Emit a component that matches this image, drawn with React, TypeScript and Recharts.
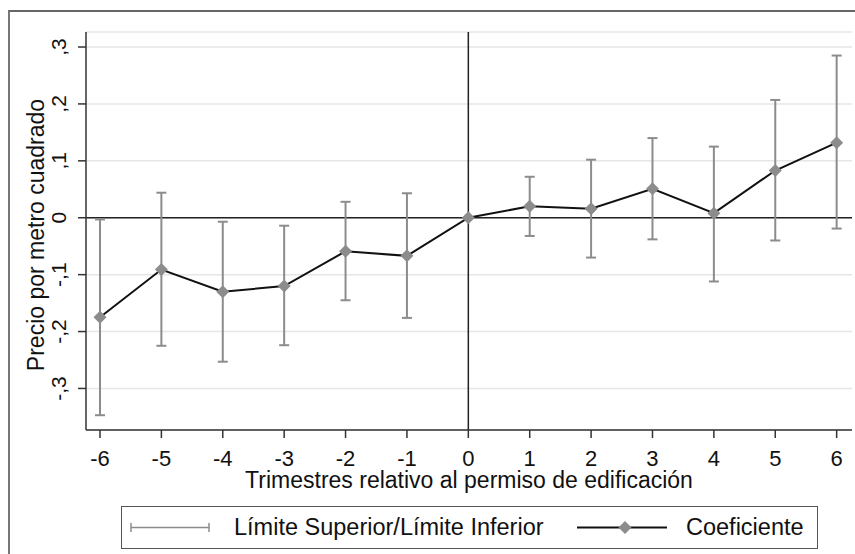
import {
  ComposedChart, Line, ErrorBar, XAxis, YAxis, CartesianGrid, ReferenceLine, Legend,
} from "recharts";

// trimestres relativos al permiso
const quarters = [-6, -5, -4, -3, -2, -1, 0, 1, 2, 3, 4, 5, 6];
const coefficient = [-0.175, -0.091, -0.130, -0.120, -0.059, -0.067, 0, 0.020, 0.016, 0.051, 0.008, 0.083, 0.132];
const upperBound = [-0.003, 0.044, -0.007, -0.014, 0.028, 0.043, 0, 0.072, 0.102, 0.140, 0.125, 0.207, 0.285];
const lowerBound = [-0.347, -0.225, -0.253, -0.224, -0.145, -0.176, 0, -0.032, -0.070, -0.038, -0.112, -0.040, -0.019];
const yTicks = [-0.3, -0.2, -0.1, 0, 0.1, 0.2, 0.3];

const data = quarters.map((q, i) => ({
  q,
  coef: coefficient[i],
  upper: upperBound[i],
  lower: lowerBound[i],
}));

const FONT = '"Liberation Sans", Arial, sans-serif';
const TEXT = "#111";
const GREY = "#8c8c8c";
const AXIS = "#333";

// Stata-style labels: ,3  -,1  0
const fmt = (v: number) => {
  if (Math.abs(v) < 1e-9) return "0";
  const d = Math.round(Math.abs(v) * 10);
  return (v < 0 ? "-" : "") + "," + d;
};

const YTick = ({ x, y, payload }: any) => {
  const bx = x - 10;
  return (
    <text x={bx} y={y} transform={`rotate(-90, ${bx}, ${y})`} textAnchor="middle"
      fontSize={21} fontFamily={FONT} fill={TEXT}>
      {fmt(payload.value)}
    </text>
  );
};

const Diamond = ({ cx, cy }: any) => {
  if (cx == null || cy == null) return null;
  const r = 6.5;
  return <polygon points={`${cx},${cy - r} ${cx + r},${cy} ${cx},${cy + r} ${cx - r},${cy}`} fill={GREY} />;
};

const LegendBox = () => (
  <div style={{
    position: "relative", boxSizing: "border-box", width: 697, height: 43,
    border: "1.5px solid #555", fontFamily: FONT, fontSize: 23.5, color: TEXT,
  }}>
    <svg width={697} height={43} style={{ position: "absolute", left: -1.5, top: -1.5 }}>
      <line x1={10} y1={21.5} x2={88} y2={21.5} stroke={GREY} strokeWidth={1.5} />
      <line x1={10} y1={17} x2={10} y2={26} stroke={GREY} strokeWidth={1.5} />
      <line x1={88} y1={17} x2={88} y2={26} stroke={GREY} strokeWidth={1.5} />
      <line x1={456} y1={21.5} x2={546} y2={21.5} stroke="#111" strokeWidth={2} />
      <Diamond cx={504} cy={21.5} />
    </svg>
    <span style={{ position: "absolute", left: 112, top: 6, lineHeight: "28px" }}>
      Límite Superior/Límite Inferior
    </span>
    <span style={{ position: "absolute", left: 564, top: 6, lineHeight: "28px" }}>
      Coeficiente
    </span>
  </div>
);

export default function App() {
  return (
    <div style={{ position: "absolute", left: 0, top: 0, width: 855, height: 554, overflow: "hidden", background: "#fff" }}>
      <div style={{
        position: "absolute", left: 8, top: 10, width: 860, height: 560,
        borderTop: "2px solid #666", borderLeft: "2px solid #777",
      }} />
      <ComposedChart width={855} height={554} data={data}
        margin={{ top: 32, right: 3, bottom: 5, left: 0 }}>
        <CartesianGrid vertical={false} stroke="#e6e6e6" strokeWidth={1.5} />
        <XAxis
          dataKey="q"
          type="number"
          domain={[-6.228, 6.25]}
          ticks={quarters}
          allowDataOverflow
          height={76}
          tickSize={8}
          tickMargin={12}
          axisLine={{ stroke: AXIS, strokeWidth: 1.5 }}
          tickLine={{ stroke: AXIS, strokeWidth: 1.5 }}
          tick={{ fontSize: 22, fill: TEXT, fontFamily: FONT }}
          label={{
            content: ({ viewBox }: any) => (
              <text x={viewBox.x + viewBox.width / 2} y={488} textAnchor="middle"
                fontSize={23} fontFamily={FONT} fill={TEXT}>
                Trimestres relativo al permiso de edificación
              </text>
            ),
          }}
        />
        <YAxis
          type="number"
          domain={[-0.373, 0.3264]}
          ticks={yTicks}
          allowDataOverflow
          width={86}
          tickSize={8}
          axisLine={{ stroke: AXIS, strokeWidth: 1.5 }}
          tickLine={{ stroke: AXIS, strokeWidth: 1.5 }}
          tick={<YTick />}
          label={{
            content: ({ viewBox }: any) => {
              const cy = viewBox.y + viewBox.height / 2 + 4;
              return (
                <text x={44} y={cy} transform={`rotate(-90, 44, ${cy})`} textAnchor="middle"
                  fontSize={23} fontFamily={FONT} fill={TEXT}>
                  Precio por metro cuadrado
                </text>
              );
            },
          }}
        />
        <ReferenceLine y={0} stroke="#222" strokeWidth={1.5} />
        <ReferenceLine x={0} stroke="#222" strokeWidth={1.5} />
        <Line dataKey="coef" stroke="none" dot={false} activeDot={false} legendType="none"
          isAnimationActive={false}>
          <ErrorBar
            dataKey={(d: any) => [d.coef - d.lower, d.upper - d.coef]}
            direction="y"
            width={5}
            stroke={GREY}
            strokeWidth={2}
            isAnimationActive={false}
          />
        </Line>
        <Line dataKey="coef" type="linear" stroke="#111" strokeWidth={2}
          dot={(p: any) => <Diamond key={p.index} {...p} />} activeDot={false}
          isAnimationActive={false} />
        <Legend verticalAlign="bottom" content={<LegendBox />}
          wrapperStyle={{ left: 121, bottom: 5, width: 697 }} />
      </ComposedChart>
    </div>
  );
}
